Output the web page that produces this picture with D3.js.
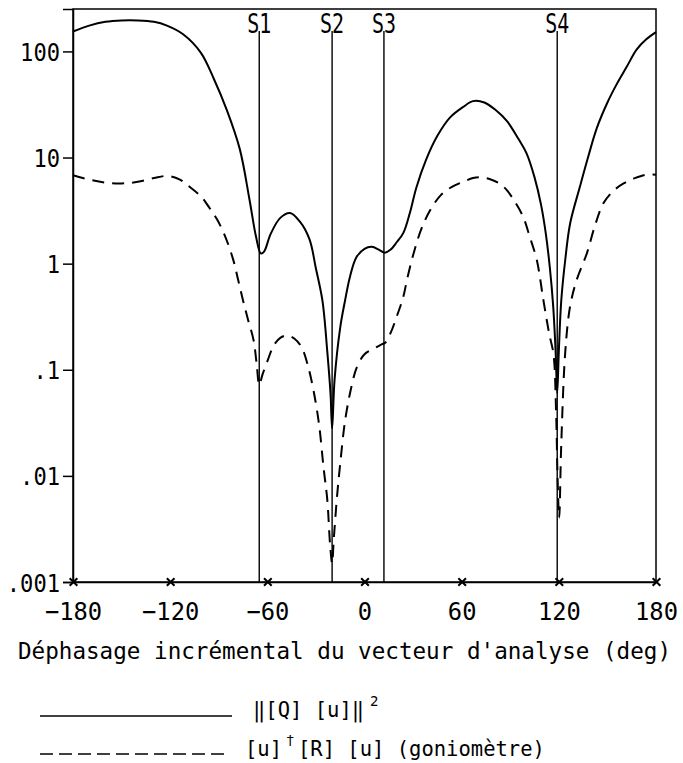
<!DOCTYPE html>
<html>
<head>
<meta charset="utf-8">
<script src="https://cdn.jsdelivr.net/npm/d3@7"></script>
<style>
  body { margin: 0; background: #fff; }
  text { font-family: "DejaVu Sans Mono", monospace; fill: #000; }
</style>
</head>
<body>
<div id="chart"></div>
<script>
// solid curve: ||[Q][u]||^2
const solidDeg = [-180,-170,-160,-150,-140,-130,-122,-112,-101,-93,-85,-77,-71,-67,-64,-62,-58,-52,-46,-40,-34,-30,-26,-23,-21,-20,-18.5,-15,-12,-9,-5,0,4.5,9,12.5,16,20,24,28,32,38,45,53,61,67,74,81,88,95,100,105,109,112,114.5,116.5,118,119,120,121.5,124,127,133,138,143.5,150,156,162,168,174,180];
const solidVal = [154,175,190,196,196,190,175,145,97,55,28,12,4,1.8,1.25,1.3,1.9,2.7,3.0,2.5,1.7,0.9,0.45,0.15,0.06,0.028,0.08,0.25,0.45,0.75,1.15,1.38,1.44,1.35,1.27,1.35,1.6,1.95,3.0,5.2,9.5,16,24,30,34,33,28,22,15,11,6.5,3.6,1.9,0.9,0.4,0.15,0.06,0.15,0.45,1.1,2.4,5.3,10,19,33,50,72,104,130,152];

// dashed curve: [u]+[R][u] (goniometre)
const dashedDeg = [-180,-170,-160,-150,-140,-130,-122,-114,-108,-101,-96,-91,-86,-81,-78,-75,-72,-68.5,-66.5,-65,-63,-60,-56,-52,-48,-43,-38.6,-35,-31.5,-28,-25.3,-23,-21.2,-20,-19,-17,-15,-12,-8,-4.7,0,5.6,10,12.8,16,20,24,26.2,30,35,40.6,47,54,61,67,72,78,84,88,93,98,102,106.4,110.5,114,116.7,118.3,119.2,120.2,121.5,124,127,131,137.3,142,147.5,154,160,167,174,180];
const dashedVal = [6.8,6.2,5.8,5.7,5.9,6.4,6.7,6.2,5.3,4.3,3.4,2.6,1.8,1.08,0.7,0.45,0.3,0.19,0.11,0.072,0.09,0.12,0.17,0.2,0.21,0.195,0.16,0.11,0.064,0.03,0.012,0.006,0.0022,0.0015,0.0025,0.0063,0.013,0.033,0.07,0.106,0.14,0.158,0.172,0.18,0.22,0.32,0.49,0.7,1.2,2.1,3.2,4.4,5.3,5.9,6.4,6.5,6.2,5.6,4.9,3.8,2.75,1.8,1.08,0.45,0.22,0.14,0.04,0.01,0.004,0.02,0.15,0.4,0.7,1.25,2.2,3.7,4.9,5.7,6.4,6.9,6.9];

const xTicks = [-180,-120,-60,0,60,120,180];
const yTickValues = [100,10,1,0.1,0.01,0.001];
const yTickLabels = ["100","10","1",".1",".01",".001"];
const sourceNames = ["S1","S2","S3","S4"];
const sourceDeg = [-65,-20,12,119];

const W = 683, H = 763;
const margin = {top: 9, right: 27, bottom: 181, left: 73};
const width = W - margin.left - margin.right;
const height = H - margin.top - margin.bottom;

const svg = d3.select("#chart").append("svg")
    .attr("width", W)
    .attr("height", H);

const g = svg.append("g")
    .attr("transform", "translate(" + margin.left + "," + margin.top + ")");

const x = d3.scaleLinear().domain([-180, 180]).range([0, width]);
const y = d3.scaleLog().domain([0.001, 251]).range([height, 0]);

// frame
g.append("rect")
    .attr("width", width).attr("height", height)
    .attr("fill", "none").attr("stroke", "#000").attr("stroke-width", 1.5);

// y axis
const yAxis = g.append("g")
    .call(d3.axisLeft(y).tickValues(yTickValues)
        .tickFormat((d, i) => yTickLabels[i]).tickSize(10).tickPadding(3));
yAxis.select(".domain").attr("stroke-width", 1.5);
yAxis.selectAll(".tick line").attr("stroke-width", 1.5);
yAxis.selectAll("text")
    .attr("font-size", 25)
    .attr("font-family", "DejaVu Sans Mono")
    .attr("dy", "0.36em")
    .attr("textLength", (d, i) => yTickLabels[i].length * 13.3)
    .attr("lengthAdjust", "spacingAndGlyphs");

// x axis
const xAxis = g.append("g")
    .attr("transform", "translate(0," + height + ")")
    .call(d3.axisBottom(x).tickValues(xTicks).tickSize(0).tickFormat(d3.format("d")));
xAxis.select(".domain").attr("stroke-width", 1.5);
xAxis.selectAll("text")
    .attr("font-size", 25)
    .attr("font-family", "DejaVu Sans Mono")
    .attr("y", 38).attr("dy", 0)
    .attr("textLength", d => String(d).length * 14.3)
    .attr("lengthAdjust", "spacingAndGlyphs");
xAxis.selectAll(".tick").append("path")
    .attr("d", d3.symbol(d3.symbolTimes, 40))
    .attr("stroke", "#000").attr("stroke-width", 2).attr("fill", "none");

// source lines
g.selectAll(".src")
    .data(sourceDeg)
    .join("line")
    .attr("class", "src")
    .attr("x1", d => x(d)).attr("x2", d => x(d))
    .attr("y1", 22).attr("y2", height)
    .attr("stroke", "#000").attr("stroke-width", 1.4);

g.selectAll(".srclabel")
    .data(sourceDeg)
    .join("text")
    .attr("class", "srclabel")
    .attr("x", d => x(d)).attr("y", 24)
    .attr("text-anchor", "middle")
    .attr("font-size", 27)
    .attr("textLength", 24)
    .attr("lengthAdjust", "spacingAndGlyphs")
    .text((d, i) => sourceNames[i]);

// curves
const solidData = solidDeg.map((d, i) => [d, solidVal[i]]);
const dashedData = dashedDeg.map((d, i) => [d, dashedVal[i]]);

const line = d3.line()
    .x(d => x(d[0]))
    .y(d => y(d[1]))
    .curve(d3.curveCatmullRom.alpha(0.5));

g.append("path")
    .datum(solidData)
    .attr("d", line)
    .attr("fill", "none").attr("stroke", "#000").attr("stroke-width", 2);

g.append("path")
    .datum(dashedData)
    .attr("d", line)
    .attr("fill", "none").attr("stroke", "#000").attr("stroke-width", 2)
    .attr("stroke-dasharray", "12,8");

// title
svg.append("text")
    .attr("x", 18).attr("y", 659)
    .attr("font-size", 23)
    .attr("textLength", 653)
    .attr("lengthAdjust", "spacingAndGlyphs")
    .text("Déphasage incrémental du vecteur d'analyse (deg)");

// legend
svg.append("line")
    .attr("x1", 40).attr("x2", 232).attr("y1", 716).attr("y2", 716)
    .attr("stroke", "#000").attr("stroke-width", 1.6);
svg.append("line")
    .attr("x1", 40).attr("x2", 228).attr("y1", 754).attr("y2", 754)
    .attr("stroke", "#000").attr("stroke-width", 1.6)
    .attr("stroke-dasharray", "13,6");

svg.append("text")
    .attr("x", 253).attr("y", 717)
    .attr("font-size", 20.5)
    .text("‖[Q] [u]‖");
svg.append("text")
    .attr("x", 370).attr("y", 706)
    .attr("font-size", 14)
    .text("2");

svg.append("text")
    .attr("x", 245).attr("y", 756)
    .attr("font-size", 20.5)
    .text("[u]");
svg.append("text")
    .attr("x", 286).attr("y", 745)
    .attr("font-size", 14)
    .text("†");
svg.append("text")
    .attr("x", 298).attr("y", 756)
    .attr("font-size", 20.5)
    .text("[R] [u]  (goniomètre)");
</script>
</body>
</html>
